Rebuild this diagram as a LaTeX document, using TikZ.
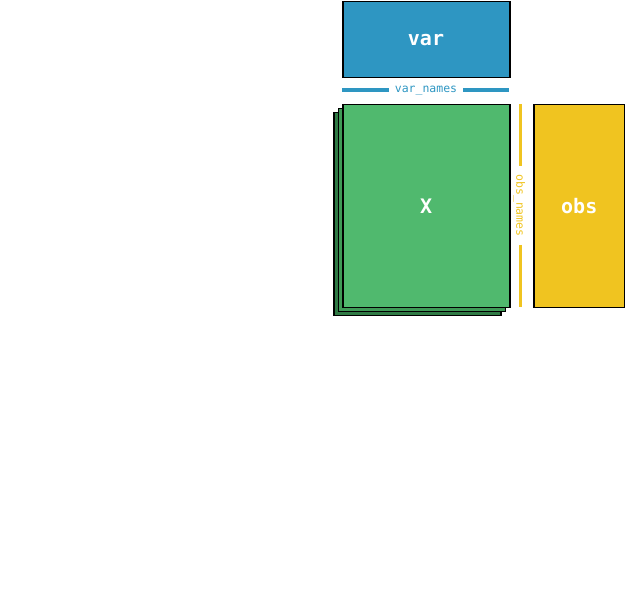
\documentclass[tikz,border=0pt]{standalone}
\usepackage{fontspec}
\setmainfont{DejaVu Sans}
\newfontfamily\monof{DejaVu Sans Mono}
\definecolor{varblue}{HTML}{2E96C2}
\definecolor{xgreen}{HTML}{50B96E}
\definecolor{xgreenb}{HTML}{3F9A57}
\definecolor{xgreenc}{HTML}{2F7A44}
\definecolor{obsyel}{HTML}{F0C420}
\tikzset{
  box/.style={draw=black, line width=1.5pt, inner sep=0pt, anchor=north west},
  lab/.style={text=white, font=\monof\bfseries\fontsize{20}{20}\selectfont},
  namebar/.style={line width=3.5pt},
  namelab/.style={font=\monof\fontsize{11.5}{11.5}\selectfont, inner sep=1pt}
}
\begin{document}
\begin{tikzpicture}[x=1pt,y=-1pt]
\useasboundingbox (0,0) rectangle (625,609);
% var
\node[box, fill=varblue, minimum width=167pt, minimum height=76pt] (var) at (342,1) {};
\node[lab] (varl) at (426,40) {var};
% X layers
\node[box, fill=xgreenc, minimum width=167pt, minimum height=203pt] (x3) at (333,112) {};
\node[box, fill=xgreenb, minimum width=167pt, minimum height=203pt] (x2) at (337.5,108) {};
\node[box, fill=xgreen, minimum width=167pt, minimum height=203pt] (x1) at (342,104) {};
\node[lab] (xl) at (x1.center) {X};
% obs
\node[box, fill=obsyel, minimum width=91pt, minimum height=203pt] (obs) at (533,104) {};
\node[lab] (obsl) at (obs.center) {obs};
% var_names
\node[namelab, text=varblue] (vn) at (426,90.5) {var\_names};
\coordinate (vnl) at (342,90);
\coordinate (vnr) at (509,90);
\draw[namebar, varblue] (vnl) -- (389,90);
\draw[namebar, varblue] (463,90) -- (vnr);
% obs_names
\node[namelab, text=obsyel, rotate=-90] (on) at (519.5,205.5) {obs\_names};
\coordinate (ont) at (520,104);
\coordinate (onb) at (520,307);
\draw[namebar, obsyel, line width=3pt] (ont) -- (520,166);
\draw[namebar, obsyel, line width=3pt] (520,245) -- (onb);
\end{tikzpicture}
\end{document}
